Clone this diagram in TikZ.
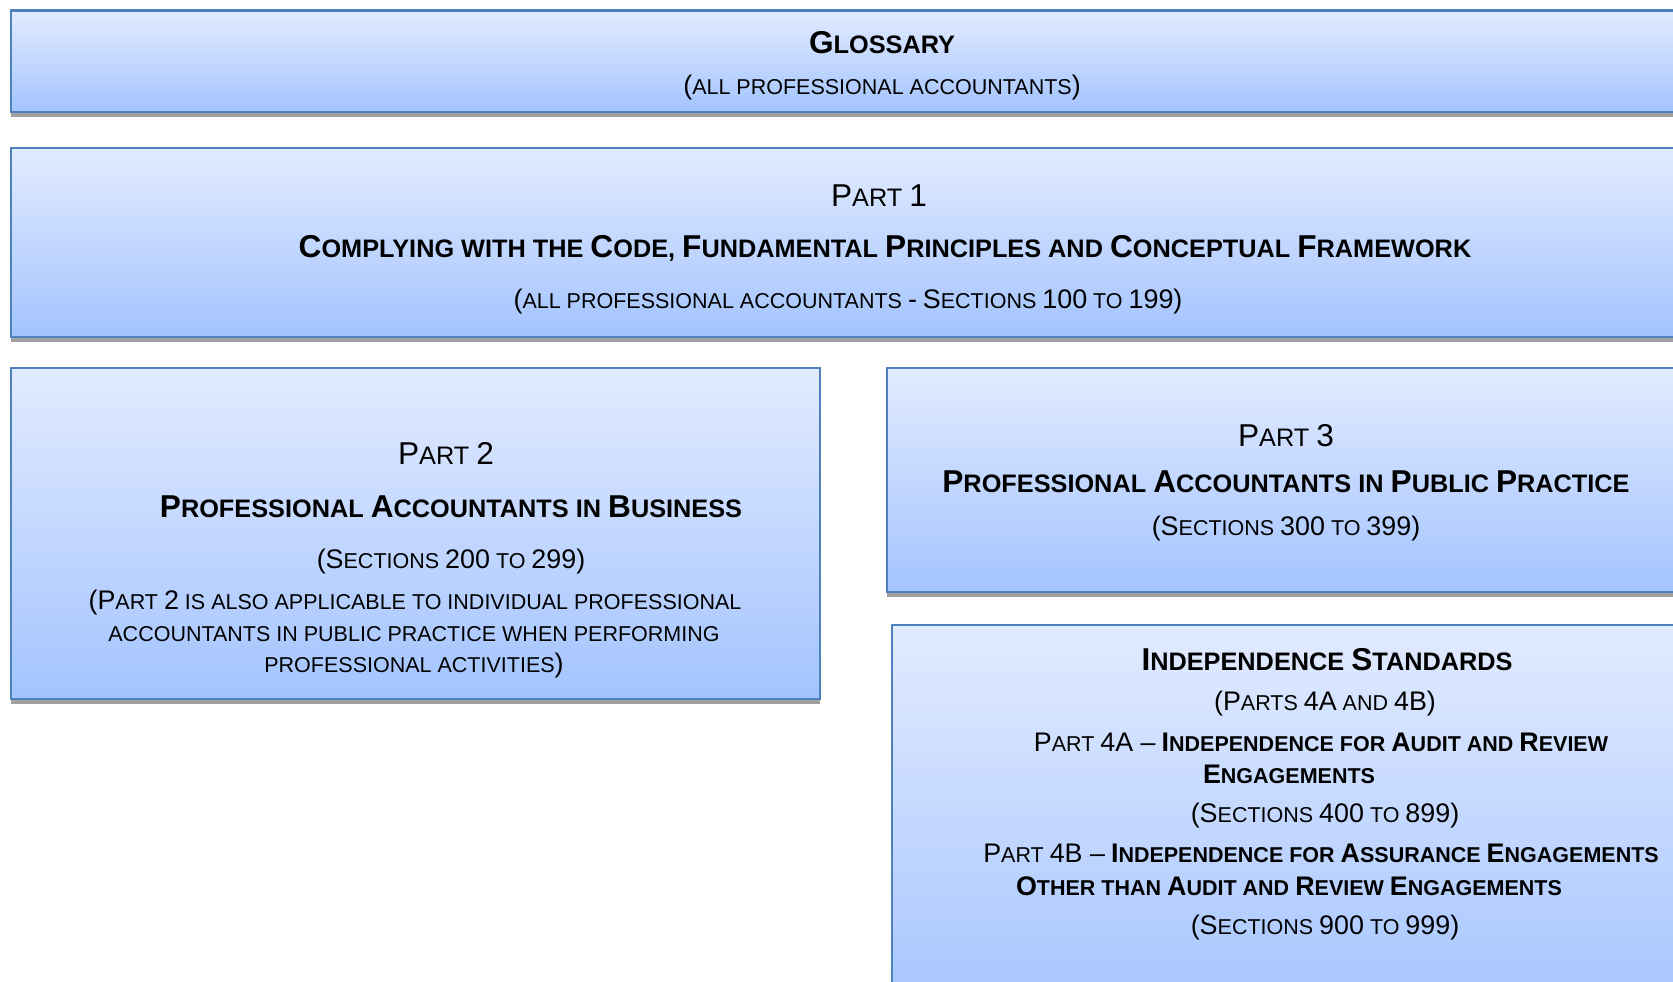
\documentclass[tikz,border=0pt]{standalone}
\usepackage{fontspec}
\setmainfont{Liberation Sans}
\usepackage{graphicx}
\usetikzlibrary{shadows}

\definecolor{boxline}{RGB}{79,129,189}
\definecolor{boxtop}{RGB}{226,235,255}
\definecolor{boxbot}{RGB}{163,196,255}

% full size letter inside fake small caps
\newcommand\C[1]{\scalebox{1.25}{#1}}

\begin{document}
\begin{tikzpicture}[x=1pt,y=-1pt,
    box/.style={draw=boxline, line width=2.4pt, top color=boxtop, bottom color=boxbot,
        anchor=north west, inner sep=0pt,
        drop shadow={shadow xshift=0pt, shadow yshift=-5pt, fill=black!37, opacity=1}},
    head/.style={anchor=base, font=\fontsize{25.3}{30}\selectfont\bfseries},
    part/.style={anchor=base, font=\fontsize{25.3}{30}\selectfont},
    sub/.style={anchor=base, font=\fontsize{21.5}{25}\selectfont}]

    \useasboundingbox (0,0) rectangle (1673,982);
    \clip (0,0) rectangle (1673,982);

    % boxes
    \node[box, minimum width=1690pt, minimum height=101pt] (glossary) at (10,9.5) {};
    \node[box, minimum width=1690pt, minimum height=189pt] (part1) at (10,147) {};
    \node[box, minimum width=809pt, minimum height=331pt] (part2) at (10,367) {};
    \node[box, minimum width=814pt, minimum height=224pt] (part3) at (886,367) {};
    \node[box, minimum width=809pt, minimum height=400pt] (indep) at (891,624) {};

    % glossary
    \node[head] (gtitle) at (882,54) {\C{G}LOSSARY};
    \node[sub] (gsub) at (882,95) {\C{(}ALL PROFESSIONAL ACCOUNTANTS\C{)}};

    % part 1
    \node[part] (p1name) at (879,206) {\C{P}ART \C{1}};
    \node[head] (p1title) at (885,257) {\C{C}OMPLYING WITH THE \C{C}ODE, \C{F}UNDAMENTAL \C{P}RINCIPLES AND \C{C}ONCEPTUAL \C{F}RAMEWORK};
    \node[sub] (p1sub) at (848,308) {\C{(}ALL PROFESSIONAL ACCOUNTANTS \C{-} \C{S}ECTIONS \C{100} TO \C{199}\C{)}};

    % part 2
    \node[part] (p2name) at (446,464) {\C{P}ART \C{2}};
    \node[head] (p2title) at (451,517) {\C{P}ROFESSIONAL \C{A}CCOUNTANTS IN \C{B}USINESS};
    \node[sub] (p2sub) at (451,568) {\C{(S}ECTIONS \C{200} TO \C{299)}};
    \node[sub] (p2note1) at (415,609) {\C{(P}ART \C{2} IS ALSO APPLICABLE TO INDIVIDUAL PROFESSIONAL};
    \node[sub] (p2note2) at (414,641) {ACCOUNTANTS IN PUBLIC PRACTICE WHEN PERFORMING};
    \node[sub] (p2note3) at (414,672) {PROFESSIONAL ACTIVITIES\C{)}};

    % part 3
    \node[part] (p3name) at (1286,446) {\C{P}ART \C{3}};
    \node[head] (p3title) at (1286,492) {\C{P}ROFESSIONAL \C{A}CCOUNTANTS IN \C{P}UBLIC \C{P}RACTICE};
    \node[sub] (p3sub) at (1286,535) {\C{(S}ECTIONS \C{300} TO \C{399)}};

    % independence standards
    \node[head] (ititle) at (1327,670) {\C{I}NDEPENDENCE \C{S}TANDARDS};
    \node[sub] (isub) at (1325,710) {\C{(P}ARTS \C{4A} AND \C{4B)}};
    \node[sub] (i4a1) at (1321,751) {\C{P}ART \C{4A --} \textbf{\C{I}NDEPENDENCE FOR \C{A}UDIT AND \C{R}EVIEW}};
    \node[sub] (i4a2) at (1289,783) {\textbf{\C{E}NGAGEMENTS}};
    \node[sub] (i4asec) at (1325,822) {\C{(S}ECTIONS \C{400} TO \C{899)}};
    \node[sub] (i4b1) at (1321,862) {\C{P}ART \C{4B --} \textbf{\C{I}NDEPENDENCE FOR \C{A}SSURANCE \C{E}NGAGEMENTS}};
    \node[sub] (i4b2) at (1289,895) {\textbf{\C{O}THER THAN \C{A}UDIT AND \C{R}EVIEW \C{E}NGAGEMENTS}};
    \node[sub] (i4bsec) at (1325,934) {\C{(S}ECTIONS \C{900} TO \C{999)}};

\end{tikzpicture}
\end{document}
